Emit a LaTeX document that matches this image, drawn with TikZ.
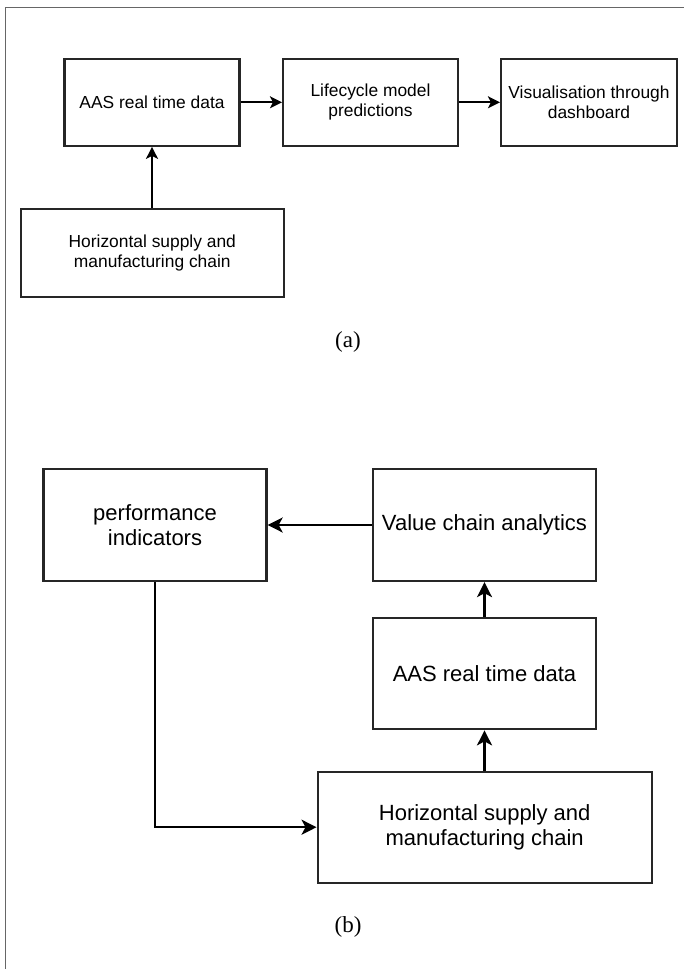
\documentclass[tikz,border=0pt]{standalone}
\usepackage{fontspec}
\setmainfont{Liberation Serif}
\setsansfont{Liberation Sans}
\usetikzlibrary{arrows.meta}
\begin{document}
\begin{tikzpicture}[x=1pt,y=-1pt,
  boxA/.style={draw=black!85,line width=2.1pt,inner sep=0pt,align=center,
    font=\sffamily\fontsize{17.4}{20}\selectfont},
  boxB/.style={draw=black!85,line width=2.3pt,inner sep=0pt,align=center,
    font=\sffamily\fontsize{22}{25.7}\selectfont},
  arrA/.style={line width=2.1pt,-{Stealth[length=12pt,width=12pt,inset=3pt]}},
  arrB/.style={line width=2.4pt,-{Stealth[length=15pt,width=15pt,inset=4pt]}},
  caption/.style={font=\fontsize{23}{26}\selectfont,inner sep=0pt},
  frame/.style={draw=black!60,line width=1.2pt}]
\path[use as bounding box] (0,0) rectangle (684,969);
\coordinate (fbl) at (5.5,969);
\coordinate (ftl) at (5.5,7.5);
\coordinate (ftr) at (684,7.5);
\draw[frame] (fbl) -- (ftl) -- (ftr);
% (a)
\node[boxA,minimum width=175pt,minimum height=87pt] (a1) at (152,102.3) {AAS real time data};
\node[boxA,minimum width=175pt,minimum height=87pt] (a2) at (370.5,102.3) {Lifecycle model\\predictions};
\node[boxA,minimum width=176pt,minimum height=87pt] (a3) at (589,102.3) {Visualisation through\\dashboard};
\node[boxA,minimum width=262.6pt,minimum height=87.7pt] (a0) at (152.3,252.8) {Horizontal supply and\\manufacturing chain};
\node[caption] (capa) at (348,342) {(a)};
\draw[arrA] (a1) -- (a2);
\draw[arrA] (a2) -- (a3);
\draw[arrA] (a0.north -| a1.south) -- (a1.south);
% (b)
\node[boxB,minimum width=223pt,minimum height=112pt] (pi) at (155,525) {performance\\indicators};
\node[boxB,minimum width=223pt,minimum height=112pt] (vc) at (484.5,525) {Value chain analytics};
\node[boxB,minimum width=223pt,minimum height=111pt] (as) at (484.5,673.7) {AAS real time data};
\node[boxB,minimum width=334pt,minimum height=111pt] (hz) at (484.7,827.2) {Horizontal supply and\\manufacturing chain};
\node[caption] (capb) at (348,927) {(b)};
\draw[arrB] (vc.west |- pi.east) -- (pi.east);
\draw[arrB] (as.north) -- (vc.south);
\draw[arrB] (hz.north -| as.south) -- (as.south);
\draw[arrB] (pi.south) |- (hz.west);
\end{tikzpicture}
\end{document}
